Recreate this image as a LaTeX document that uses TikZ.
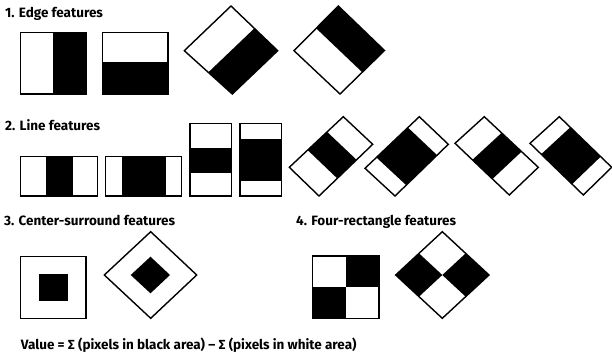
\documentclass[tikz,border=0pt]{standalone}
\usepackage{fontspec}
\setmainfont{Fira Sans}
\usetikzlibrary{calc}
\tikzset{
  frame/.style={draw=black, line width=1.4pt, line join=miter},
  blk/.style={fill=black},
  title/.style={anchor=base west, inner sep=0pt, font=\fontsize{13.5}{16}\selectfont\bfseries},
}
\begin{document}
\begin{tikzpicture}[x=1pt,y=-1pt]
\useasboundingbox (0,0) rectangle (612,356);
% ---------- titles
\node[title] (t1) at (5,17) {1. Edge features};
\node[title] (t2) at (5,130) {2. Line features};
\node[title] (t3) at (4,225) {3. Center-surround features};
\node[title] (t4) at (296,225) {4. Four-rectangle features};
\node[title] (t5) at (20.7,349) {Value = ∑ (pixels in black area) – ∑ (pixels in white area)};
% ---------- 1. edge features
\fill[blk] (52.7,32.3) rectangle (86,94);
\draw[frame] (20.7,32.3) rectangle (86,94);
\fill[blk] (102.7,62.3) rectangle (168,94);
\draw[frame] (102.7,32.3) rectangle (168,94);
% diamond A
\coordinate (aL) at (184.3,50.7); \coordinate (aT) at (231,6);
\coordinate (aR) at (277.7,50.7); \coordinate (aB) at (232.3,94);
\fill[blk] ($(aT)!0.5!(aR)$) -- (aR) -- (aB) -- ($(aL)!0.5!(aB)$) -- cycle;
\draw[frame] (aL) -- (aT) -- (aR) -- (aB) -- cycle;
% diamond B
\coordinate (bL) at (294,50.7); \coordinate (bT) at (338.3,6);
\coordinate (bR) at (384.5,50.5); \coordinate (bB) at (340,94);
\fill[blk] ($(bL)!0.5!(bT)$) -- (bT) -- (bR) -- ($(bR)!0.5!(bB)$) -- cycle;
\draw[frame] (bL) -- (bT) -- (bR) -- (bB) -- cycle;
% ---------- 2. line features
\fill[blk] (46,156.7) rectangle (73.3,196);
\draw[frame] (20.7,156.7) rectangle (97.3,196);
\fill[blk] (121.7,156.7) rectangle (166,196);
\draw[frame] (105.7,156.7) rectangle (181.7,196);
\fill[blk] (190,147.7) rectangle (231.7,173.3);
\draw[frame] (190,123.3) rectangle (231.7,196);
\fill[blk] (240,139) rectangle (281.7,180.7);
\draw[frame] (240,123.3) rectangle (281.7,196);
% rotated C
\coordinate (cL) at (289.3,167.3); \coordinate (cT) at (343.3,116.7);
\coordinate (cR) at (372.7,144.3); \coordinate (cB) at (319,196);
\fill[blk] ($(cL)!0.34!(cT)$) -- ($(cL)!0.70!(cT)$) -- ($(cB)!0.70!(cR)$) -- ($(cB)!0.34!(cR)$) -- cycle;
\draw[frame] (cL) -- (cT) -- (cR) -- (cB) -- cycle;
% rotated D
\coordinate (dL) at (365,168.3); \coordinate (dT) at (419.3,116.7);
\coordinate (dR) at (448.3,144.3); \coordinate (dB) at (395,196);
\fill[blk] ($(dL)!0.21!(dT)$) -- ($(dL)!0.79!(dT)$) -- ($(dB)!0.79!(dR)$) -- ($(dB)!0.21!(dR)$) -- cycle;
\draw[frame] (dL) -- (dT) -- (dR) -- (dB) -- cycle;
% rotated E
\coordinate (eL) at (455,143.3); \coordinate (eT) at (484.3,116.7);
\coordinate (eR) at (538.3,167.3); \coordinate (eB) at (509.3,195);
\fill[blk] ($(eT)!0.32!(eR)$) -- ($(eT)!0.69!(eR)$) -- ($(eL)!0.69!(eB)$) -- ($(eL)!0.32!(eB)$) -- cycle;
\draw[frame] (eL) -- (eT) -- (eR) -- (eB) -- cycle;
% rotated F
\coordinate (fL) at (530,143.3); \coordinate (fT) at (559.3,116.7);
\coordinate (fR) at (611.7,167.3); \coordinate (fB) at (583.3,195);
\fill[blk] ($(fT)!0.21!(fR)$) -- ($(fT)!0.79!(fR)$) -- ($(fL)!0.79!(fB)$) -- ($(fL)!0.21!(fB)$) -- cycle;
\draw[frame] (fL) -- (fT) -- (fR) -- (fB) -- cycle;
% ---------- 3. center-surround
\fill[blk] (39,274) rectangle (67.7,301);
\draw[frame] (20.7,256.7) rectangle (86,318.3);
\coordinate (gL) at (104.3,275); \coordinate (gT) at (150.7,231.7);
\coordinate (gR) at (196.7,275); \coordinate (gB) at (150.7,318.3);
\fill[blk] (130.7,275) -- (150.5,256.7) -- (170,275) -- (150.5,293.3) -- cycle;
\draw[frame] (gL) -- (gT) -- (gR) -- (gB) -- cycle;
% ---------- 4. four-rectangle
\fill[blk] (345.7,256) rectangle (379,286.7);
\fill[blk] (312.3,286.7) rectangle (345.7,318.3);
\draw[frame] (312.3,256) rectangle (379,318.3);
\coordinate (hL) at (395.7,275); \coordinate (hT) at (442.3,231.7);
\coordinate (hR) at (489,275); \coordinate (hB) at (442.3,318.3);
\coordinate (hC) at (442.3,275);
\fill[blk] (hL) -- ($(hL)!0.5!(hT)$) -- (hC) -- ($(hL)!0.5!(hB)$) -- cycle;
\fill[blk] (hR) -- ($(hT)!0.5!(hR)$) -- (hC) -- ($(hR)!0.5!(hB)$) -- cycle;
\draw[frame] (hL) -- (hT) -- (hR) -- (hB) -- cycle;
\end{tikzpicture}
\end{document}
